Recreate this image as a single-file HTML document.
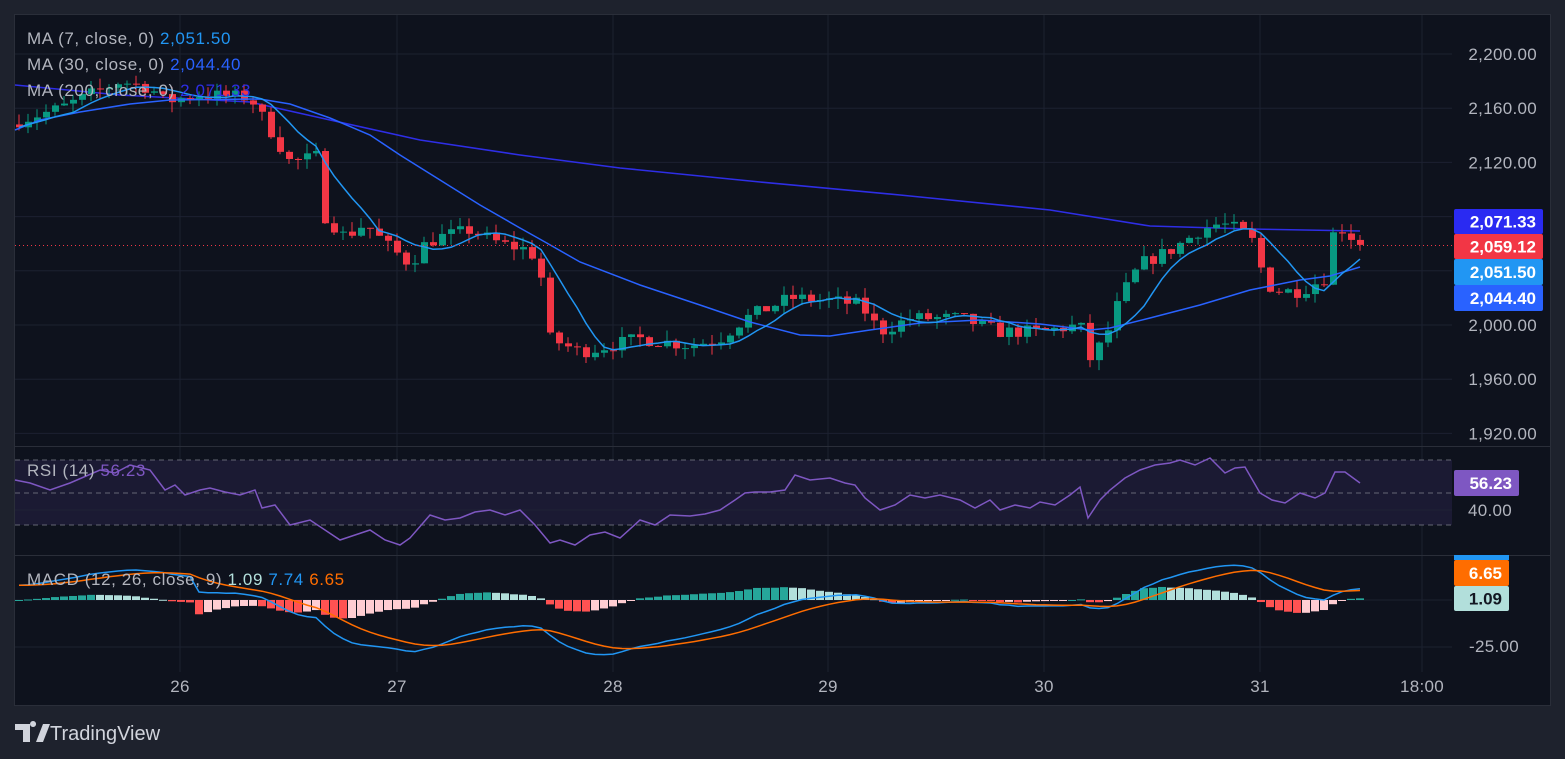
<!DOCTYPE html>
<html><head><meta charset="utf-8"><style>
html,body{margin:0;padding:0;background:#1e222d;width:1565px;height:759px;overflow:hidden}
svg{display:block}
text{font-family:"Liberation Sans","DejaVu Sans",sans-serif}
</style></head><body>
<svg id="s" width="1565" height="759" xmlns="http://www.w3.org/2000/svg"></svg>
<script>
const S=document.getElementById('s');let h='';
h+='<rect x="0" y="0" width="1565" height="759" fill="#1e222d"/>';
h+='<rect x="14.5" y="14.5" width="1536" height="691" fill="#0e121d" stroke="#2a2e39"/>';
const vx=[180,397,613,828,1044,1260,1422];
vx.forEach(x=>{h+=`<line x1="${x}" y1="15" x2="${x}" y2="672" stroke="#1c2130"/>`});
const py=p=>54+(2200-p)*1.355;
const AX='font-size="17" letter-spacing="0.3"';
for(let p=2200;p>=1920;p-=40){const y=py(p);h+=`<line x1="15" y1="${y}" x2="1452" y2="${y}" stroke="#1c2130"/>`;
h+=`<text x="1537" y="${y+6}" fill="#b2b5be" ${AX} text-anchor="end">${p.toLocaleString('en-US')}.00</text>`;}
h+='<line x1="15" y1="446.5" x2="1550" y2="446.5" stroke="#2a2e39"/><line x1="15" y1="555.5" x2="1550" y2="555.5" stroke="#2a2e39"/>';
h+='<rect x="15" y="460" width="1437" height="65" fill="#1b1a33"/>';
[460,493,525].forEach(y=>{h+=`<line x1="15" y1="${y}" x2="1452" y2="${y}" stroke="#787b86" stroke-dasharray="5,4" opacity=".8"/>`});
h+='<line x1="15" y1="510" x2="1452" y2="510" stroke="#1f2335"/>';
h+=`<text x="1512" y="516" fill="#b2b5be" ${AX} text-anchor="end">40.00</text>`;
h+='<line x1="15" y1="600" x2="1452" y2="600" stroke="#1c2130"/><line x1="15" y1="647" x2="1452" y2="647" stroke="#1c2130"/>';
h+=`<text x="1519" y="652" fill="#b2b5be" ${AX} text-anchor="end">-25.00</text>`;
[[180,'26'],[397,'27'],[613,'28'],[828,'29'],[1044,'30'],[1260,'31'],[1422,'18:00']].forEach(([x,t])=>{h+=`<text x="${x}" y="692" fill="#b2b5be" ${AX} text-anchor="middle">${t}</text>`});
const K=[[15,2150],[60,2160],[120,2180],[150,2175],[165,2165],[200,2170],[250,2168],[265,2150],[290,2120],[320,2125],[325,2080],[345,2065],[365,2075],[385,2060],[410,2045],[425,2060],[440,2065],[470,2070],[500,2060],[530,2055],[540,2040],[550,1990],[580,1980],[610,1985],[640,1990],[690,1985],[720,1990],[745,2005],[790,2020],[830,2018],[860,2015],[880,1995],[910,2005],[960,2005],[1000,1995],[1040,1995],[1080,2000],[1090,1975],[1105,1990],[1120,2020],[1140,2045],[1170,2055],[1200,2070],[1220,2075],[1240,2070],[1255,2060],[1265,2030],[1280,2025],[1300,2025],[1325,2035],[1335,2075],[1350,2066],[1360,2059]];
function interp(x){for(let i=1;i<K.length;i++){if(x<=K[i][0]){const a=K[i-1],b=K[i];return a[1]+(b[1]-a[1])*(x-a[0])/(b[0]-a[0]);}}return K[K.length-1][1];}
let seed=7;const rnd=()=>{seed=(seed*16807)%2147483647;return seed/2147483647;};
const xs=[],C=[],O=[],H=[],L=[];let prev=2148;
for(let x=19;x<=1360;x+=9){const c=interp(x)+(rnd()-0.5)*10;xs.push(x);O.push(prev);C.push(c);
H.push(Math.max(prev,c)+rnd()*8);L.push(Math.min(prev,c)-rnd()*8);prev=c;}
C[C.length-1]=2059.12;
h+='<polyline fill="none" stroke="#2e2ee6" stroke-width="1.6" points="15,85 120,95 250,102 330,120 420,140 520,155 620,168 760,182 900,195 1050,210 1150,226 1250,229 1360,231"/>';
function sma(n){return C.map((_,i)=>{const s=Math.max(0,i-n+1);let t=0;for(let j=s;j<=i;j++)t+=C[j];return t/(i-s+1)})}
xs.forEach((x,i)=>{const up=C[i]>=O[i];const col=up?'#089981':'#f23645';
h+=`<line x1="${x}" y1="${py(H[i])}" x2="${x}" y2="${py(L[i])}" stroke="${col}"/>`;
const y1=py(Math.max(O[i],C[i])),y2=py(Math.min(O[i],C[i]));h+=`<rect x="${x-3}" y="${y1}" width="7" height="${Math.max(1,y2-y1)}" fill="${col}"/>`;});
const m7=sma(7);
h+='<polyline fill="none" stroke="#2962ff" stroke-width="1.5" points="15,130 40,120 80,112 130,104 170,100 260,99 290,104 330,118 370,135 400,155 440,180 480,205 520,228 545,242 580,262 640,285 700,305 750,322 800,335 830,336 870,330 920,323 980,320 1040,324 1090,330 1110,328 1150,318 1200,305 1250,290 1300,280 1330,276 1360,267"/>';
h+=`<polyline fill="none" stroke="#2196f3" stroke-width="1.5" points="${xs.map((x,i)=>x+','+py(m7[i]).toFixed(1)).join(' ')}"/>`;
h+=`<line x1="15" y1="245.5" x2="1452" y2="245.5" stroke="#f23645" stroke-dasharray="1,3"/>`;
// RSI hand-drawn
const RP=[[15,480],[30,483],[50,490],[70,483],[100,470],[115,473],[130,465],[150,470],[165,490],[175,485],[185,495],[200,490],[210,488],[225,492],[240,495],[255,490],[262,508],[275,505],[290,525],[310,520],[325,530],[340,540],[355,535],[370,530],[385,540],[400,545],[410,538],[430,515],[445,520],[460,518],[475,512],[490,510],[505,515],[520,510],[535,525],[550,543],[560,540],[575,545],[590,535],[605,532],[620,538],[640,520],[655,525],[670,515],[690,516],[705,514],[720,510],[735,500],[745,493],[755,492],[770,492],[785,490],[795,475],[810,480],[830,478],[845,483],[855,485],[865,498],[880,510],[895,505],[910,495],[925,498],[940,495],[960,500],[975,508],[990,500],[1000,510],[1015,505],[1030,508],[1040,502],[1055,505],[1070,495],[1080,487],[1088,518],[1100,500],[1110,490],[1125,478],[1140,470],[1155,465],[1170,463],[1180,460],[1195,465],[1210,458],[1225,473],[1235,468],[1245,467],[1260,493],[1272,500],[1285,503],[1300,493],[1315,498],[1325,493],[1335,472],[1345,472],[1360,483]];
h+=`<polyline fill="none" stroke="#7e57c2" stroke-width="1.5" points="${RP.map(p=>p.join(',')).join(' ')}"/>`;
function ema(a,n){const k=2/(n+1);let e=a[0];return a.map(v=>e=v*k+e*(1-k));}
const e12=ema(C,12),e26=ema(C,26),M=e12.map((v,i)=>v-e26[i]+(i<20?8:0)),SG=ema(M,9);
const my=v=>600-v*1.84;
xs.forEach((x,i)=>{const hv=M[i]-SG[i];const p=i?M[i-1]-SG[i-1]:0;let col=hv>=0?(hv>=p?'#26a69a':'#b2dfdb'):(hv<p?'#ff5252':'#ffcdd2');
const y=my(hv);h+=`<rect x="${x-4}" y="${Math.min(y,600)}" width="8" height="${Math.max(1,Math.abs(y-600))}" fill="${col}"/>`;});
h+=`<polyline fill="none" stroke="#2196f3" stroke-width="1.5" points="${xs.map((x,i)=>x+','+my(M[i]).toFixed(1)).join(' ')}"/>`;
h+=`<polyline fill="none" stroke="#ff6d00" stroke-width="1.5" points="${xs.map((x,i)=>x+','+my(SG[i]).toFixed(1)).join(' ')}"/>`;
const LF='font-size="17" letter-spacing="0.6"';
const lg=(y,a,b,c)=>{h+=`<text x="27" y="${y}" ${LF} fill="#b2b5be">${a}  <tspan fill="${c}">${b}</tspan></text>`};
lg(44,'MA (7, close, 0)','2,051.50','#2196f3');lg(70,'MA (30, close, 0)','2,044.40','#2962ff');lg(96,'MA (200, close, 0)','2,071.33','#2e2ee6');
lg(476,'RSI (14)','56.23','#7e57c2');
h+=`<text x="27" y="585" ${LF} fill="#b2b5be">MACD (12, 26, close, 9)  <tspan fill="#b2dfdb">1.09</tspan>  <tspan fill="#2196f3">7.74</tspan>  <tspan fill="#ff6d00">6.65</tspan></text>`;
const box=(y,hh,w,bg,t,tc)=>{h+=`<rect x="1454" y="${y}" width="${w}" height="${hh}" rx="2" fill="${bg}"/><text x="${1454+w-7}" y="${y+hh/2+6}" font-size="17" font-weight="bold" fill="${tc}" text-anchor="end">${t}</text>`};
box(209,25,89,'#2a2af2','2,071.33','#fff');box(234,25,89,'#f23645','2,059.12','#fff');box(259,26,89,'#2196f3','2,051.50','#fff');box(285,26,89,'#2962ff','2,044.40','#fff');
box(470,26,65,'#7e57c2','56.23','#fff');
h+='<rect x="1454" y="555" width="55" height="5" fill="#2196f3"/>';
box(560,26,55,'#ff6d00','6.65','#fff');box(586,25,55,'#b2dfdb','1.09','#131722');
h+='<path d="M15 724h15v18h-7v-12h-8z M33 727a3 3 0 1 1 0.1 0z M36 742l7-18h7l-7 18z" fill="#d1d4dc"/>';
h+='<text x="50" y="740" font-size="20" fill="#d1d4dc">TradingView</text>';
S.innerHTML=h;
</script>
</body></html>
